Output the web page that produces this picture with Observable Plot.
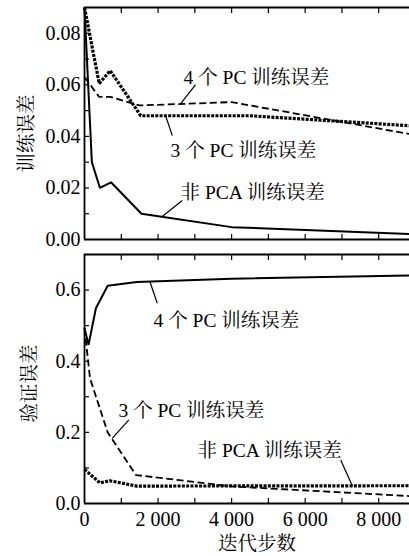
<!DOCTYPE html>
<html>
<head>
<meta charset="utf-8">
<script src="https://cdn.jsdelivr.net/npm/d3@7"></script>
<script src="https://cdn.jsdelivr.net/npm/@observablehq/plot@0.6"></script>
<style>
  html, body { margin: 0; padding: 0; background: #fff; }
  #chart { position: relative; width: 409px; height: 556px; overflow: hidden; }
  #chart svg { position: absolute; left: 0; overflow: visible; }
  #chart svg text { font-family: "Liberation Serif", "Times New Roman", Times, "DejaVu Serif", "Noto Serif CJK SC", "Noto Sans CJK SC", serif !important; }
</style>
</head>
<body>
<div id="chart"></div>
<script>
// ---------- data ----------
// Training error panel
const trainNonPcaSteps = [0, 200, 420, 720, 1550, 4000, 9000];
const trainNonPcaErr   = [0.090, 0.030, 0.020, 0.0222, 0.010, 0.0048, 0.002];
const train4PcSteps    = [0, 400, 700, 1500, 4000, 9000];
const train4PcErr      = [0.063, 0.0553, 0.0553, 0.052, 0.0533, 0.0405];
const train3PcSteps    = [0, 400, 700, 1530, 4500, 9000];
const train3PcErr      = [0.090, 0.0605, 0.0655, 0.048, 0.048, 0.044];

// Validation error panel
const val4PcSteps      = [0, 110, 310, 630, 1420, 4000, 9000];
const val4PcErr        = [0.493, 0.446, 0.549, 0.612, 0.623, 0.632, 0.641];
const val3PcSteps      = [0, 150, 630, 1400, 4000, 9000];
const val3PcErr        = [0.493, 0.352, 0.200, 0.080, 0.048, 0.020];
const valNonPcaSteps   = [0, 420, 690, 1420, 9000];
const valNonPcaErr     = [0.096, 0.058, 0.064, 0.049, 0.050];

// tick values / labels
const xMajorTicks = [0, 2000, 4000, 6000, 8000];
const xMinorTicks = [1000, 2000, 3000, 4000, 5000, 6000, 7000, 8000, 9000];
const trainYTicks = [0, 0.02, 0.04, 0.06, 0.08];
const trainYMinor = [0.01, 0.02, 0.03, 0.04, 0.05, 0.06, 0.07, 0.08];
const valYTicks   = [0, 0.2, 0.4, 0.6];
const valYMinor   = [0.1, 0.2, 0.3, 0.4, 0.5, 0.6];

const labelPC4 = "4 个 PC 训练误差";
const labelPC3 = "3 个 PC 训练误差";
const labelNon = "非 PCA 训练误差";
const trainTitle = "训练误差";
const valTitle = "验证误差";
const xTitle = "迭代步数";

// annotations (data coordinates)
const trainLabels = [
  {text: labelPC4, x: 2694, y: 0.0628},
  {text: labelPC3, x: 2340, y: 0.0345},
  {text: labelNon, x: 2612, y: 0.0181}
];
const trainLeaders = [
  {x1: 2612, y1: 0.0526, x2: 3020, y2: 0.0601},
  {x1: 2204, y1: 0.0481, x2: 2386, y2: 0.0403},
  {x1: 2114, y1: 0.0089, x2: 2658, y2: 0.0151}
];
const valLabels = [
  {text: labelPC4, x: 1878, y: 0.514},
  {text: labelPC3, x: 925,  y: 0.261},
  {text: labelNon, x: 3075, y: 0.147}
];
const valLeaders = [
  {x1: 1778, y1: 0.624, x2: 1978, y2: 0.563},
  {x1: 753,  y1: 0.183, x2: 1206, y2: 0.235},
  {x1: 6966, y1: 0.122, x2: 7284, y2: 0.049}
];

// ---------- helpers ----------
const zip = (xs, ys) => xs.map((x, i) => ({x, y: ys[i]}));
const FONT = "'Liberation Serif', 'Times New Roman', serif";
const DASH = "7,3.5";
const DOT = "3,1.3";

function panel({yDomain, yTicks, yMinor, yFmt, series, labels, leaders, title, titleDx, titleDy, showX, height, marginTop, marginBottom}) {
  const marks = [
    Plot.ruleX([0], {stroke: "black", strokeWidth: 1.8}),
    Plot.ruleY([yDomain[1]], {stroke: "black", strokeWidth: 1.8}),
    Plot.ruleY([0], {stroke: "black", strokeWidth: 1.8}),
    Plot.axisX({anchor: "bottom", ticks: xMinorTicks, tickSize: -5, fill: "none", tickFormat: () => "", strokeWidth: 1.2}),
    Plot.axisX({anchor: "top", ticks: xMinorTicks, tickSize: -5, fill: "none", tickFormat: () => "", strokeWidth: 1.2}),
    Plot.axisY({anchor: "left", ticks: yMinor, tickSize: -5, fill: "none", tickFormat: () => "", strokeWidth: 1.2}),
    Plot.axisY({anchor: "left", ticks: yTicks, tickSize: 0, tickPadding: 4, tickFormat: yFmt, fontSize: 20}),
    ...series.map(s => Plot.line(s.data, {x: "x", y: "y", stroke: "black", strokeWidth: s.w, strokeDasharray: s.dash, strokeLinecap: "butt", strokeLinejoin: "miter"})),
    Plot.link(leaders, {x1: "x1", y1: "y1", x2: "x2", y2: "y2", stroke: "black", strokeWidth: 1.2}),
    Plot.text(labels, {x: "x", y: "y", text: "text", textAnchor: "start", lineAnchor: "middle", fontSize: 19.5, fill: "black"}),
    Plot.text([title], {frameAnchor: "left", rotate: -90, textAnchor: "middle", lineAnchor: "middle", dx: titleDx, dy: titleDy, fontSize: 19.5, fill: "black"})
  ];
  if (showX) {
    marks.push(Plot.axisX({anchor: "bottom", ticks: xMajorTicks, tickSize: 0, tickPadding: 8, fontSize: 20,
      tickFormat: d => d === 0 ? "0" : d3.format(",")(d).replace(",", " ")}));
    marks.push(Plot.text([xTitle], {frameAnchor: "bottom", textAnchor: "middle", lineAnchor: "middle", dx: 7, dy: 40, fontSize: 19.5, fill: "black"}));
  }
  return Plot.plot({
    width: 409, height,
    marginLeft: 84, marginRight: -6, marginTop, marginBottom,
    x: {domain: [0, 9000], axis: null},
    y: {domain: yDomain, axis: null},
    style: {fontFamily: FONT, fontSize: "20px", color: "black", background: "transparent", overflow: "visible"},
    marks
  });
}

const topPanel = panel({
  yDomain: [0, 0.09], yTicks: trainYTicks, yMinor: trainYMinor, yFmt: d3.format(".2f"),
  series: [
    {data: zip(trainNonPcaSteps, trainNonPcaErr), w: 2, dash: null},
    {data: zip(train4PcSteps, train4PcErr), w: 1.8, dash: DASH},
    {data: zip(train3PcSteps, train3PcErr), w: 3.2, dash: DOT}
  ],
  labels: trainLabels, leaders: trainLeaders, title: trainTitle, titleDx: -58, titleDy: 10,
  showX: false, height: 250, marginTop: 7, marginBottom: 11
});
const bottomPanel = panel({
  yDomain: [0, 0.7], yTicks: valYTicks, yMinor: valYMinor, yFmt: d3.format(".1f"),
  series: [
    {data: zip(val4PcSteps, val4PcErr), w: 2, dash: null},
    {data: zip(val3PcSteps, val3PcErr), w: 1.8, dash: DASH},
    {data: zip(valNonPcaSteps, valNonPcaErr), w: 3.2, dash: DOT}
  ],
  labels: valLabels, leaders: valLeaders, title: valTitle, titleDx: -55, titleDy: 4.5,
  showX: true, height: 306, marginTop: 4, marginBottom: 53
});
topPanel.style.top = "0px";
bottomPanel.style.top = "250px";
const chart = document.getElementById("chart");
chart.appendChild(topPanel);
chart.appendChild(bottomPanel);
</script>
</body>
</html>
